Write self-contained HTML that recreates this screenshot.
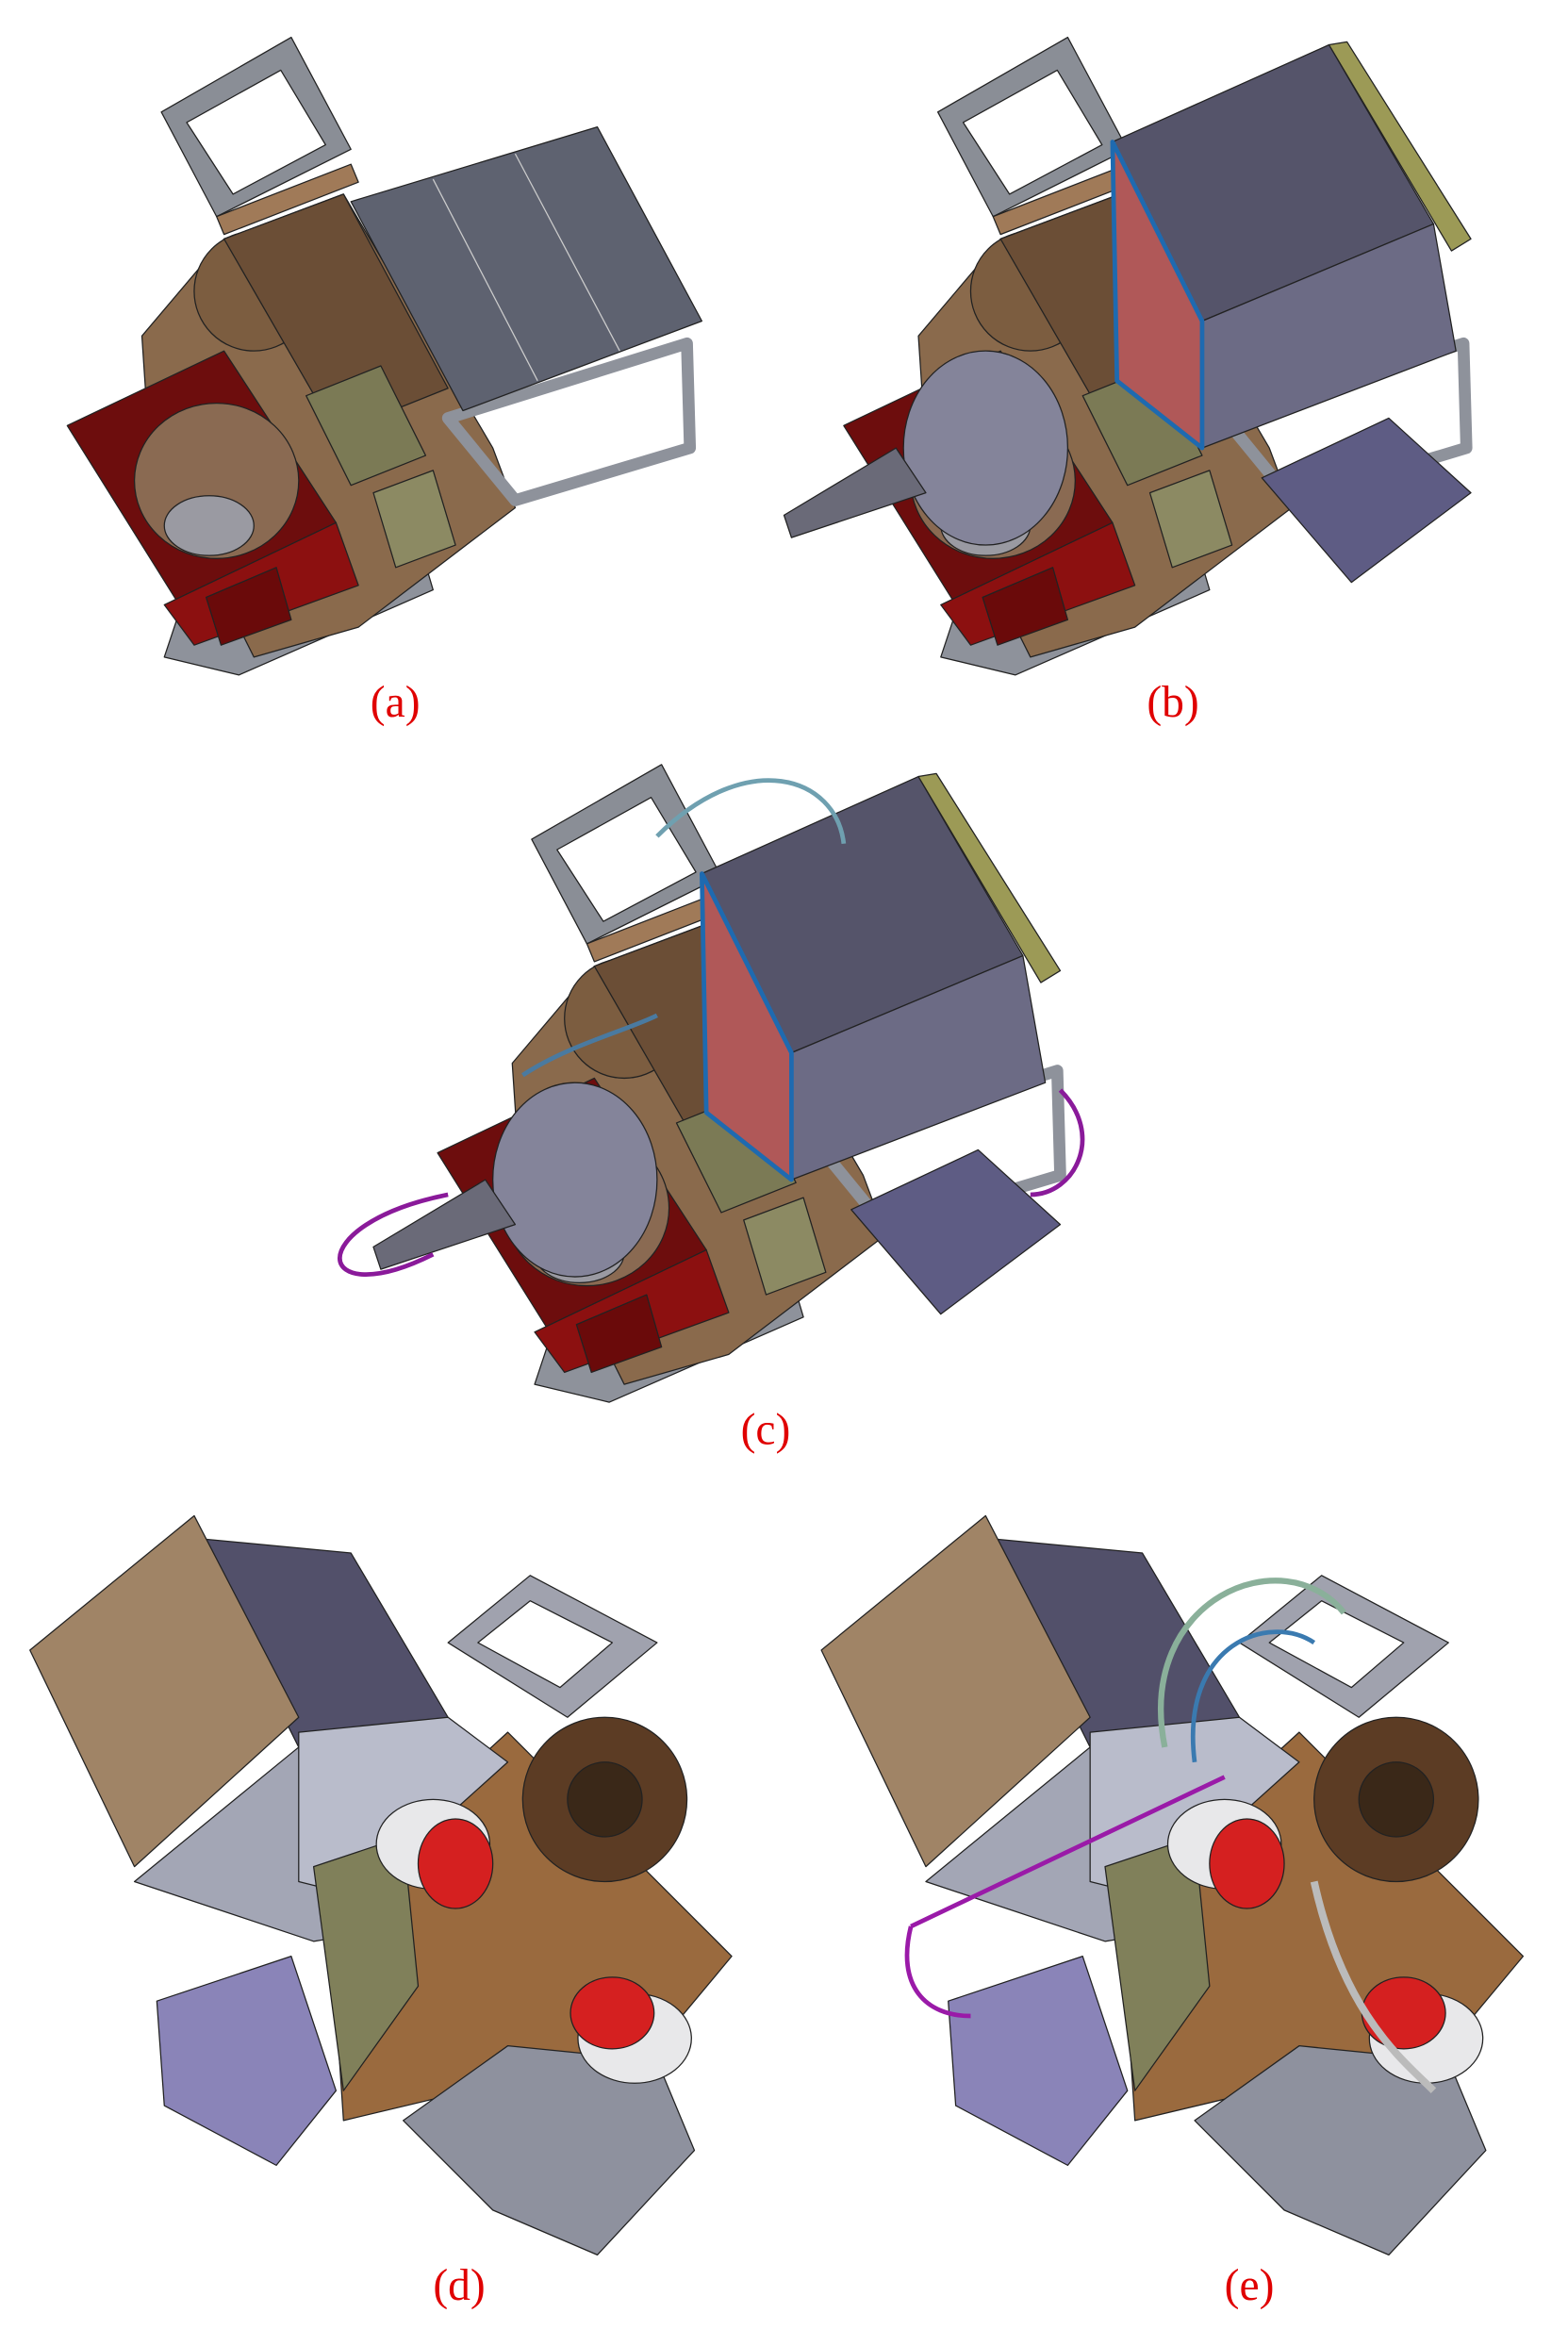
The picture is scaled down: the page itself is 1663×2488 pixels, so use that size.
<!DOCTYPE html>
<html><head><meta charset="utf-8"><style>
html,body{margin:0;padding:0;background:#fff;}
svg{display:block;}
text{font-family:"Liberation Serif",serif;fill:#e00000;font-size:30px;}
</style></head><body>
<svg width="1663" height="2488" viewBox="0 0 1050 1571" xmlns="http://www.w3.org/2000/svg" stroke="#222" stroke-width="0.8" stroke-linejoin="round">
<defs>
<g id="baseA">
  <polygon points="110,440 160,452 290,395 282,368 120,410" fill="#8e929b"/>
  <polygon points="95,225 150,160 230,130 330,300 345,340 240,420 170,440 100,300" fill="#8a6a4c"/>
  <circle cx="170" cy="195" r="40" fill="#7c5d40"/>
  <polygon points="150,160 230,130 300,260 225,290" fill="#6b4e36"/>
  <polygon points="205,265 255,245 285,305 235,325" fill="#7b7a55"/>
  <polygon points="250,330 290,315 305,365 265,380" fill="#8c8a63"/>
  <polygon points="45,285 150,235 225,350 120,405" fill="#6d0d0d"/>
  <ellipse cx="145" cy="322" rx="55" ry="52" fill="#8a6a52"/>
  <ellipse cx="140" cy="352" rx="30" ry="20" fill="#9a9aa2"/>
  <polygon points="110,405 225,350 240,392 130,432" fill="#8c1010"/>
  <polygon points="138,400 185,380 195,415 148,432" fill="#6a0a0a"/>
  <polygon points="300,280 460,230 462,300 345,335" fill="none" stroke="#8e929b" stroke-width="8"/>
  <polygon points="108,75 195,25 235,100 145,145" fill="#8a8e96"/>
  <polygon points="125,82 188,47 218,97 156,130" fill="#fff"/>
  <polygon points="145,145 235,110 240,122 150,157" fill="#a07a58"/>
</g>
<g id="baseD">
  <polygon points="90,1260 200,1170 340,1180 270,1290 210,1300" fill="#a3a6b5"/>
  <polygon points="105,1340 195,1310 225,1400 185,1450 110,1410" fill="#8a84b8"/>
  <polygon points="220,1270 340,1160 490,1310 440,1370 230,1420" fill="#9a6a3e"/>
  <polygon points="270,1420 340,1370 440,1380 465,1440 400,1510 330,1480" fill="#8e919e"/>
  <polygon points="130,1030 235,1040 300,1150 200,1170" fill="#52506a"/>
  <polygon points="20,1105 130,1015 200,1150 90,1250" fill="#a08466"/>
  <polygon points="200,1160 300,1150 340,1180 240,1270 200,1260" fill="#b9bccb"/>
  <polygon points="210,1250 270,1230 280,1330 230,1400" fill="#80805a"/>
  <circle cx="405" cy="1205" r="55" fill="#5c3c24"/>
  <circle cx="405" cy="1205" r="25" fill="#3a2818"/>
  <polygon points="300,1100 355,1055 440,1100 380,1150" fill="#a0a2ae"/>
  <polygon points="320,1100 355,1072 410,1100 375,1130" fill="#fff"/>
  <ellipse cx="290" cy="1235" rx="38" ry="30" fill="#e8e8ea"/>
  <ellipse cx="305" cy="1248" rx="25" ry="30" fill="#d52020"/>
  <ellipse cx="425" cy="1365" rx="38" ry="30" fill="#e8e8ea"/>
  <ellipse cx="410" cy="1348" rx="28" ry="24" fill="#d52020"/>
</g>
<g id="boxB">
  <polygon points="745,95 890,30 960,150 805,215" fill="#55546a"/>
  <polygon points="805,215 960,150 975,235 805,300" fill="#6c6b85"/>
  <polygon points="745,95 805,215 805,300 748,255" fill="#b05858" stroke="#1e6ab0" stroke-width="3"/>
  <polygon points="890,30 902,28 985,160 972,168" fill="#9c9a56"/>
  <polygon points="845,320 930,280 985,330 905,390" fill="#5e5c84"/>
  <ellipse cx="660" cy="300" rx="55" ry="65" fill="#84849a"/>
  <polygon points="600,300 620,330 530,360 525,345" fill="#6a6a78"/>
</g>
</defs>
<g>
  <use href="#baseA"/>
  <polygon points="235,135 400,85 470,215 310,275" fill="#5e6270"/>
  <line x1="290" y1="120" x2="360" y2="255" stroke="#ccc"/>
  <line x1="345" y1="103" x2="415" y2="235" stroke="#ccc"/>
  <text x="248" y="480" stroke="none">(a)</text>
</g>
<g>
  <use href="#baseA" x="520"/>
  <use href="#boxB"/>
  <text x="768" y="480" stroke="none">(b)</text>
</g>
<g>
  <use href="#baseA" x="248" y="487"/>
  <use href="#boxB" x="-275" y="490"/>
  <path d="M440,560 C500,500 560,520 565,565" fill="none" stroke="#6fa0b0" stroke-width="3"/>
  <path d="M300,800 C200,820 210,880 290,840" fill="none" stroke="#8a1a9a" stroke-width="3"/>
  <path d="M710,730 C740,760 720,800 690,800" fill="none" stroke="#8a1a9a" stroke-width="3"/>
  <path d="M350,720 C380,700 420,690 440,680" fill="none" stroke="#4a7aa0" stroke-width="3"/>
  <text x="496" y="967" stroke="none">(c)</text>
</g>
<g>
  <use href="#baseD"/>
  <text x="290" y="1540" stroke="none">(d)</text>
</g>
<g>
  <use href="#baseD" x="530"/>
  <path d="M780,1170 C760,1070 860,1030 900,1080" fill="none" stroke="#8ab09a" stroke-width="4"/>
  <path d="M800,1180 C790,1100 850,1080 880,1100" fill="none" stroke="#3a7ab0" stroke-width="3"/>
  <path d="M610,1290 C600,1330 620,1350 650,1350 M610,1290 L820,1190" fill="none" stroke="#9a1aa8" stroke-width="3"/>
  <path d="M880,1260 C900,1350 940,1380 960,1400" fill="none" stroke="#bbb" stroke-width="5"/>
  <text x="820" y="1540" stroke="none">(e)</text>
</g>
</svg>
</body></html>
